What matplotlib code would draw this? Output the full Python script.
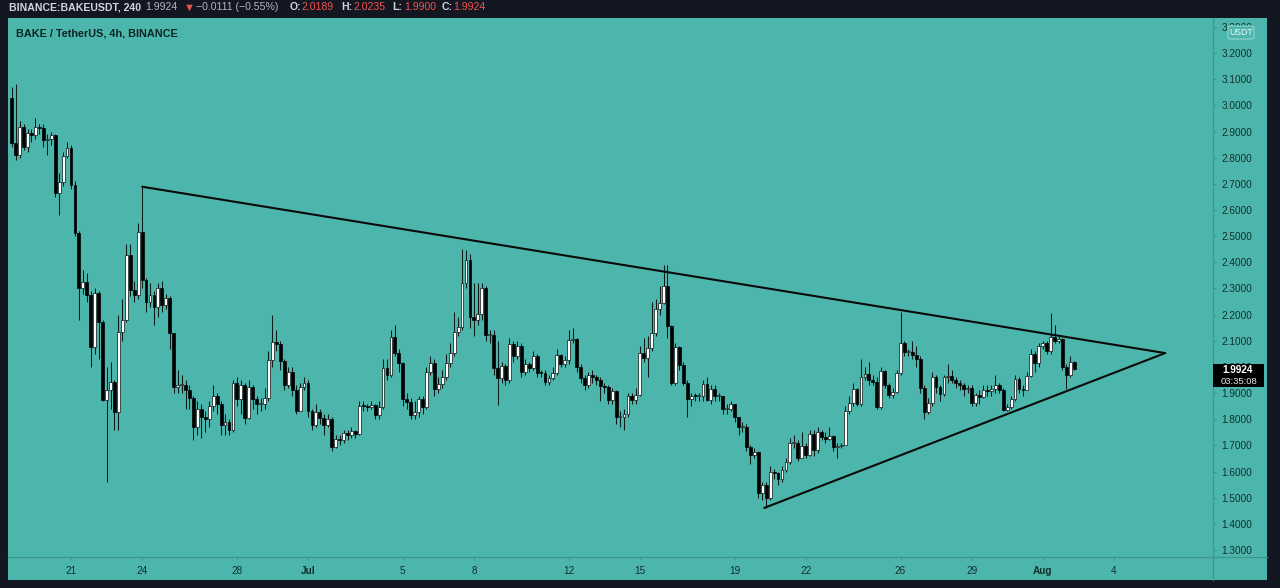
import datetime as dt
import numpy as np
import matplotlib
matplotlib.use("Agg")
import matplotlib.pyplot as plt
import matplotlib.dates as mdates
from matplotlib.patches import Rectangle, FancyBboxPatch
from matplotlib.lines import Line2D

plt.rcParams['font.family'] = ['Liberation Sans', 'DejaVu Sans']

# BAKE/USDT 4h candles (open = previous close)
first_time = dt.datetime(2021, 6, 18, 12)
first_open = 3.03

closes = [
    2.855, 2.81, 2.918, 2.842, 2.893, 2.887, 2.918, 2.912, 2.867, 2.87,
    2.887, 2.664, 2.708, 2.806, 2.836, 2.695, 2.511, 2.30, 2.326, 2.275,
    2.078, 2.282, 2.173, 1.874, 1.912, 1.944, 1.829, 2.135, 2.18, 2.428,
    2.294, 2.275, 2.517, 2.332, 2.25, 2.275, 2.23, 2.30, 2.237, 2.262,
    2.129, 1.925, 1.93, 1.931, 1.912, 1.88, 1.77, 1.84, 1.81, 1.80,
    1.85, 1.889, 1.858, 1.778, 1.791, 1.757, 1.937, 1.876, 1.931, 1.804,
    1.922, 1.876, 1.858, 1.86, 1.883, 2.027, 2.097, 2.088, 2.024, 1.931,
    1.98, 1.912, 1.833, 1.922, 1.937, 1.833, 1.778, 1.829, 1.804, 1.778,
    1.80, 1.695, 1.723, 1.72, 1.746, 1.74, 1.755, 1.744, 1.851, 1.85,
    1.846, 1.853, 1.816, 1.848, 1.995, 1.97, 2.113, 2.055, 2.014, 1.876,
    1.867, 1.816, 1.829, 1.876, 1.846, 1.982, 2.016, 1.915, 1.935, 1.963,
    2.014, 2.055, 2.135, 2.154, 2.322, 2.409, 2.192, 2.18, 2.202, 2.30,
    2.122, 2.122, 1.995, 1.957, 2.004, 1.95, 2.088, 2.04, 2.08, 1.982,
    2.011, 1.995, 2.04, 1.978, 1.975, 1.944, 1.956, 1.978, 2.045, 2.011,
    2.026, 2.103, 2.105, 2.0, 1.956, 1.931, 1.969, 1.963, 1.95, 1.927,
    1.922, 1.874, 1.908, 1.81, 1.81, 1.82, 1.889, 1.874, 1.893, 2.055,
    2.033, 2.071, 2.131, 2.22, 2.246, 2.31, 2.156, 1.937, 2.075, 2.008,
    1.937, 1.876, 1.889, 1.887, 1.887, 1.935, 1.874, 1.915, 1.887, 1.887,
    1.838, 1.838, 1.857, 1.807, 1.769, 1.77, 1.695, 1.664, 1.676, 1.517,
    1.549, 1.498, 1.60, 1.594, 1.571, 1.606, 1.638, 1.708, 1.711, 1.651,
    1.698, 1.664, 1.744, 1.683, 1.753, 1.734, 1.724, 1.736, 1.695, 1.698,
    1.702, 1.833, 1.861, 1.915, 1.858, 1.963, 1.973, 1.95, 1.944, 1.846,
    1.985, 1.931, 1.893, 1.906, 1.976, 2.093, 2.058, 2.058, 2.046, 2.03,
    1.918, 1.829, 1.861, 1.963, 1.922, 1.897, 1.96, 1.966, 1.95, 1.94,
    1.931, 1.915, 1.918, 1.864, 1.893, 1.886, 1.912, 1.908, 1.915, 1.931,
    1.912, 1.836, 1.846, 1.876, 1.953, 1.915, 1.912, 1.966, 2.05, 2.014,
    2.08, 2.09, 2.06, 2.113, 2.10, 2.105, 2.001, 1.97, 2.02, 1.9924,
]

highs = [
    3.07, 3.08, 2.94, 2.93, 2.91, 2.91, 2.95, 2.93, 2.93, 2.89,
    2.90, 2.89, 2.74, 2.82, 2.86, 2.85, 2.71, 2.52, 2.37, 2.36,
    2.29, 2.30, 2.29, 2.18, 2.00, 2.02, 1.95, 2.20, 2.26, 2.47,
    2.47, 2.33, 2.55, 2.689, 2.34, 2.32, 2.29, 2.32, 2.33, 2.28,
    2.27, 2.13, 1.99, 1.97, 1.95, 1.93, 1.89, 1.87, 1.86, 1.83,
    1.87, 1.93, 1.90, 1.87, 1.82, 1.80, 1.95, 1.96, 1.95, 1.94,
    1.95, 1.93, 1.89, 1.88, 1.92, 2.06, 2.199, 2.14, 2.10, 2.03,
    2.00, 2.00, 1.93, 1.94, 1.96, 1.95, 1.84, 1.86, 1.84, 1.82,
    1.82, 1.81, 1.74, 1.74, 1.76, 1.76, 1.77, 1.76, 1.87, 1.87,
    1.86, 1.87, 1.86, 1.87, 2.03, 2.03, 2.14, 2.16, 2.07, 2.02,
    1.90, 1.88, 1.87, 1.89, 1.89, 2.00, 2.04, 2.03, 1.96, 1.99,
    2.05, 2.09, 2.21, 2.19, 2.45, 2.447, 2.43, 2.32, 2.32, 2.32,
    2.31, 2.14, 2.14, 2.10, 2.02, 2.01, 2.11, 2.10, 2.10, 2.09,
    2.03, 2.02, 2.06, 2.05, 1.99, 1.99, 1.97, 2.00, 2.07, 2.05,
    2.04, 2.14, 2.15, 2.11, 2.01, 1.97, 1.98, 1.99, 1.97, 1.96,
    1.94, 1.93, 1.92, 1.91, 1.83, 1.84, 1.90, 1.90, 1.92, 2.08,
    2.11, 2.12, 2.25, 2.26, 2.31, 2.39, 2.39, 2.16, 2.09, 2.08,
    2.02, 1.95, 1.90, 1.90, 1.90, 1.95, 1.96, 1.93, 1.93, 1.90,
    1.89, 1.86, 1.87, 1.86, 1.81, 1.79, 1.78, 1.70, 1.69, 1.68,
    1.56, 1.56, 1.62, 1.61, 1.60, 1.62, 1.65, 1.73, 1.74, 1.72,
    1.75, 1.71, 1.76, 1.76, 1.77, 1.76, 1.75, 1.77, 1.74, 1.71,
    1.71, 1.85, 1.89, 1.94, 1.92, 2.03, 2.00, 2.02, 1.97, 1.96,
    2.00, 1.99, 1.94, 1.92, 1.99, 2.211, 2.10, 2.07, 2.10, 2.08,
    2.04, 1.93, 1.88, 1.98, 1.97, 1.93, 1.97, 2.01, 1.99, 1.96,
    1.95, 1.94, 1.93, 1.93, 1.90, 1.91, 1.93, 1.93, 1.93, 1.97,
    1.94, 1.92, 1.86, 1.89, 1.97, 1.96, 1.93, 1.98, 2.07, 2.06,
    2.09, 2.10, 2.10, 2.208, 2.16, 2.12, 2.11, 2.01, 2.04, 2.0235,
]

lows = [
    2.84, 2.79, 2.80, 2.83, 2.82, 2.86, 2.87, 2.89, 2.84, 2.81,
    2.85, 2.65, 2.58, 2.69, 2.80, 2.68, 2.50, 2.18, 2.28, 2.25,
    2.00, 2.05, 2.03, 1.87, 1.56, 1.84, 1.76, 1.76, 2.10, 2.17,
    2.27, 2.25, 2.26, 2.30, 2.21, 2.23, 2.16, 2.19, 2.21, 2.22,
    2.07, 1.90, 1.90, 1.90, 1.84, 1.84, 1.72, 1.74, 1.73, 1.75,
    1.77, 1.83, 1.82, 1.74, 1.74, 1.74, 1.75, 1.85, 1.82, 1.78,
    1.80, 1.84, 1.82, 1.83, 1.84, 1.87, 2.00, 2.06, 1.99, 1.91,
    1.92, 1.89, 1.82, 1.83, 1.91, 1.81, 1.76, 1.77, 1.78, 1.74,
    1.77, 1.68, 1.69, 1.70, 1.71, 1.72, 1.73, 1.73, 1.74, 1.83,
    1.83, 1.84, 1.80, 1.80, 1.84, 1.95, 1.96, 2.04, 1.98, 1.85,
    1.84, 1.80, 1.80, 1.81, 1.82, 1.84, 1.97, 1.89, 1.90, 1.92,
    1.95, 2.00, 2.04, 2.12, 2.14, 2.30, 2.15, 2.12, 2.16, 2.18,
    2.10, 2.09, 1.97, 1.855, 1.94, 1.93, 1.94, 2.02, 2.03, 1.96,
    1.97, 1.98, 1.99, 1.96, 1.96, 1.93, 1.93, 1.95, 1.97, 2.00,
    2.00, 2.01, 2.09, 1.98, 1.94, 1.91, 1.92, 1.94, 1.93, 1.87,
    1.90, 1.86, 1.86, 1.78, 1.77, 1.76, 1.81, 1.86, 1.86, 1.89,
    2.02, 1.96, 2.06, 2.12, 2.20, 2.24, 2.11, 1.93, 1.93, 1.99,
    1.93, 1.81, 1.85, 1.87, 1.87, 1.87, 1.87, 1.86, 1.87, 1.87,
    1.82, 1.82, 1.83, 1.79, 1.74, 1.75, 1.68, 1.63, 1.65, 1.50,
    1.49, 1.46, 1.49, 1.57, 1.55, 1.56, 1.60, 1.63, 1.69, 1.64,
    1.65, 1.65, 1.66, 1.66, 1.67, 1.72, 1.71, 1.72, 1.68, 1.65,
    1.69, 1.70, 1.82, 1.85, 1.85, 1.85, 1.95, 1.93, 1.93, 1.84,
    1.84, 1.92, 1.88, 1.88, 1.90, 1.97, 2.04, 2.04, 2.03, 2.00,
    1.90, 1.80, 1.82, 1.85, 1.90, 1.87, 1.89, 1.94, 1.94, 1.92,
    1.91, 1.89, 1.90, 1.85, 1.85, 1.86, 1.88, 1.89, 1.89, 1.90,
    1.90, 1.83, 1.83, 1.84, 1.87, 1.90, 1.89, 1.91, 1.96, 1.98,
    2.00, 2.07, 2.05, 2.05, 2.09, 2.09, 1.99, 1.915, 1.96, 1.99,
]

# triangle drawn on the chart
upper_line_t = [dt.datetime(2021, 6, 24, 0), dt.datetime(2021, 8, 6, 4)]
upper_line_p = [2.689, 2.053]
lower_line_t = [dt.datetime(2021, 7, 20, 6), dt.datetime(2021, 8, 6, 4)]
lower_line_p = [1.461, 2.053]

tick_dates = [dt.datetime(2021, 6, 21), dt.datetime(2021, 6, 24), dt.datetime(2021, 6, 28),
              dt.datetime(2021, 7, 1), dt.datetime(2021, 7, 5), dt.datetime(2021, 7, 8),
              dt.datetime(2021, 7, 12), dt.datetime(2021, 7, 15), dt.datetime(2021, 7, 19),
              dt.datetime(2021, 7, 22), dt.datetime(2021, 7, 26), dt.datetime(2021, 7, 29),
              dt.datetime(2021, 8, 1), dt.datetime(2021, 8, 4)]
tick_labels = ['21', '24', '28', 'Jul', '5', '8', '12', '15', '19', '22', '26', '29', 'Aug', '4']
price_ticks = [1.3, 1.4, 1.5, 1.6, 1.7, 1.8, 1.9, 2.0, 2.1, 2.2, 2.3,
               2.4, 2.5, 2.6, 2.7, 2.8, 2.9, 3.0, 3.1, 3.2, 3.3]

last_price = '1.9924'
countdown = '03:35:08'

TEAL = '#4db6ac'
DARK = '#131722'
SEP = '#3f958c'
LABEL = '#10302c'
RED = '#ef5350'

W, H = 1280, 588


def fx(px):
    return px / W


def fy(py):
    return 1 - py / H


fig = plt.figure(figsize=(12.8, 5.88), dpi=100, facecolor=DARK)

# teal panel behind plot + price axis + time axis
fig.patches.append(Rectangle((fx(8), fy(580)), fx(1267) - fx(8), fy(18) - fy(580),
                             transform=fig.transFigure, facecolor=TEAL, edgecolor='none', zorder=-5))

ax = fig.add_axes([fx(8), fy(556.7), fx(1213) - fx(8), fy(18) - fy(556.7)])
ax.set_facecolor('none')
for s in ax.spines.values():
    s.set_visible(False)

n = len(closes)
times = [first_time + dt.timedelta(hours=4 * i) for i in range(n)]
x = mdates.date2num(times)
o = np.array([first_open] + closes[:-1])
c = np.array(closes)
h = np.array(highs)
l = np.array(lows)

up = c >= o
bottom = np.minimum(o, c)
height = np.maximum(np.abs(c - o), 0.004)

ax.vlines(x, l, h, color='#0c1a18', lw=0.75, zorder=2)
ax.bar(x[up], height[up], bottom=bottom[up], width=0.12, color='white',
       edgecolor='#111111', lw=0.5, zorder=3)
ax.bar(x[~up], height[~up], bottom=bottom[~up], width=0.12, color='black',
       edgecolor='black', lw=0.5, zorder=3)

ax.plot(mdates.date2num(upper_line_t), upper_line_p, color='#0a0a0a', lw=1.5, zorder=4,
        solid_capstyle='round')
ax.plot(mdates.date2num(lower_line_t), lower_line_p, color='#0a0a0a', lw=1.5, zorder=4,
        solid_capstyle='round')

d0 = mdates.date2num(dt.datetime(2021, 6, 21))
ax.set_xlim(d0 - 63 / 23.7, d0 + 1142 / 23.7)
ax.set_ylim(1.2745, 3.334)

ax.yaxis.tick_right()
ax.set_yticks(price_ticks)
ax.set_yticklabels(['%.4f' % p for p in price_ticks])
ax.tick_params(axis='y', direction='out', length=2.5, width=0.8, color=SEP,
               labelsize=7.2, labelcolor=LABEL, pad=3.5)

ax.set_xticks(mdates.date2num(tick_dates))
ax.set_xticklabels(tick_labels)
ax.tick_params(axis='x', direction='out', length=2.5, width=0.8, color=SEP,
               labelsize=7.2, labelcolor=LABEL, pad=4)
for t in ax.get_xticklabels():
    if t.get_text() in ('Jul', 'Aug'):
        t.set_fontweight('bold')

# separators between plot and axes
fig.add_artist(Line2D([fx(1213), fx(1213)], [fy(18), fy(580)], transform=fig.transFigure,
                      color=SEP, lw=0.9))
fig.add_artist(Line2D([fx(8), fx(1267)], [fy(556.7), fy(556.7)], transform=fig.transFigure,
                      color=SEP, lw=0.9))

# header line
hy = fy(7.5)
fig.text(fx(9), hy, 'BINANCE:BAKEUSDT, 240', color='#d1d4dc', fontsize=7.6,
         fontweight='bold', va='center')
fig.text(fx(145), hy, last_price, color='#b2b5be', fontsize=7.6, va='center')
fig.text(fx(183.5), hy, '\u25bc', color=RED, fontsize=8, va='center')
fig.text(fx(196), hy, '\u22120.0111 (\u22120.55%)', color='#b2b5be', fontsize=7.6, va='center')
for lab, val, px_lab, px_val in [('O:', '2.0189', 290, 302), ('H:', '2.0235', 341, 353),
                                 ('L:', '1.9900', 392, 404), ('C:', '1.9924', 442, 453)]:
    fig.text(fx(px_lab), hy, lab, color='#d1d4dc', fontsize=7.6, fontweight='bold', va='center')
    fig.text(fx(px_val), hy, val, color=RED, fontsize=7.6, va='center')

fig.text(fx(16), fy(34), 'BAKE / TetherUS, 4h, BINANCE', color='#0c2522', fontsize=7.8,
         fontweight='bold', va='center')

# currency badge (sits over the partly hidden top price label, as in the screenshot)
fig.patches.append(FancyBboxPatch((fx(1228), fy(39)), fx(26), 13 / H,
                                  boxstyle='round,pad=0.0,rounding_size=0.003',
                                  transform=fig.transFigure, facecolor=TEAL,
                                  edgecolor='#8fd6ce', lw=0.8, zorder=5))
fig.text(fx(1241), fy(32.5), 'USDT', color='#eafaf8', fontsize=6.3, ha='center', va='center',
         zorder=6)

# last price label
fig.patches.append(Rectangle((fx(1213), fy(387)), fx(51), 23 / H, transform=fig.transFigure,
                             facecolor='black', edgecolor='none', zorder=5))
fig.text(fx(1222), fy(370), last_price, color='white', fontsize=7.2, fontweight='bold',
         va='center', zorder=6)
fig.text(fx(1221), fy(381.5), countdown, color='#e8e8e8', fontsize=6.8, va='center', zorder=6)

fig.savefig('out.png', dpi=100, facecolor=fig.get_facecolor())
